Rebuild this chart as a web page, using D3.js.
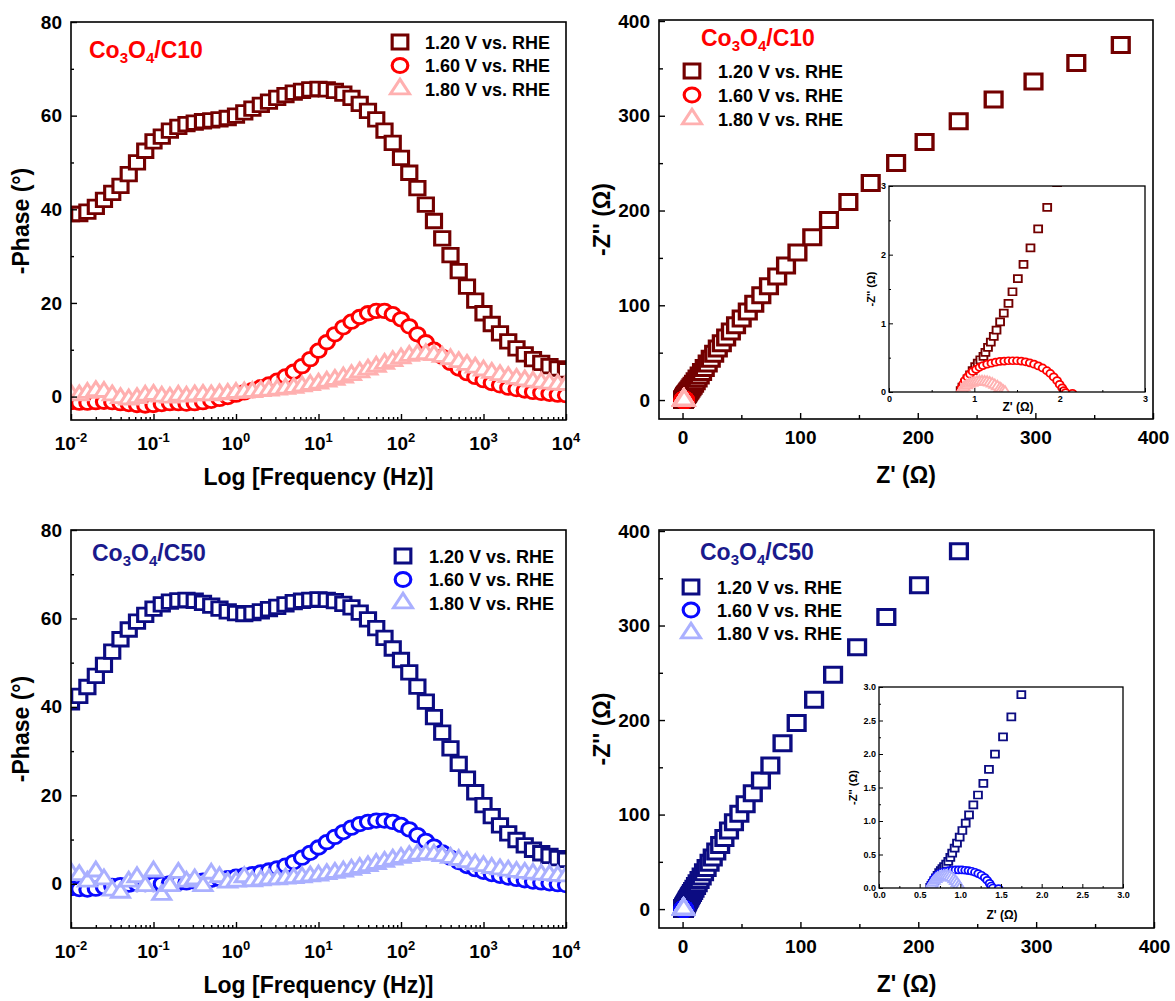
<!DOCTYPE html>
<html>
<head>
<meta charset="utf-8">
<script src="https://cdn.jsdelivr.net/npm/d3@7"></script>
<style>
  body { margin: 0; background: #fff; }
  text { font-family: "Liberation Sans", Arial, Helvetica, sans-serif; font-weight: bold; }
</style>
</head>
<body>
<svg id="chart" width="1175" height="1001"></svg>
<script>
// ---- data ----
var freqHz = [0.01, 0.0126, 0.0158, 0.02, 0.0251, 0.0316, 0.0398, 0.0501, 0.0631, 0.0794,
  0.1, 0.126, 0.158, 0.2, 0.251, 0.316, 0.398, 0.501, 0.631, 0.794,
  1, 1.26, 1.58, 2, 2.51, 3.16, 3.98, 5.01, 6.31, 7.94,
  10, 12.6, 15.8, 20, 25.1, 31.6, 39.8, 50.1, 63.1, 79.4,
  100, 126, 158, 200, 251, 316, 398, 501, 631, 794,
  1000, 1259, 1585, 1995, 2512, 3162, 3981, 5012, 6310, 7943, 10000];

var legendLabels = ["1.20 V vs. RHE", "1.60 V vs. RHE", "1.80 V vs. RHE"];
var decades = [0.01, 0.1, 1, 10, 100, 1000, 10000];
var decadeExp = ["-2", "-1", "0", "1", "2", "3", "4"];
var phaseTicks = [0, 20, 40, 60, 80];
var phaseMinor = [10, 30, 50, 70];
var zTicks = [0, 100, 200, 300, 400];
var zMinor = [50, 150, 250, 350];

// Bode, Co3O4/C10
var phaseC10_120 = [39.0, 39.0, 39.5, 40.5, 42.0, 43.5, 45.0, 47.5, 50.0, 52.5,
  54.5, 55.5, 56.8, 57.6, 58.2, 58.5, 58.8, 59.0, 59.2, 59.5,
  60.0, 60.7, 61.5, 62.3, 63.0, 63.8, 64.4, 64.9, 65.3, 65.6,
  65.7, 65.6, 65.3, 64.7, 63.8, 62.5, 61.0, 59.2, 56.8, 54.2,
  51.0, 47.8, 44.5, 41.0, 37.5, 33.8, 30.2, 26.8, 23.5, 20.5,
  17.8, 15.5, 13.5, 11.8, 10.3, 9.0, 8.0, 7.2, 6.5, 6.0, 5.6];
var phaseC10_160 = [-1.2, -1.3, -1.3, -1.2, -1.1, -1.2, -1.4, -1.6, -1.8, -1.9,
  -1.8, -1.6, -1.4, -1.4, -1.5, -1.4, -1.2, -0.9, -0.5, -0.1,
  0.4, 0.9, 1.4, 2.0, 2.6, 3.4, 4.3, 5.3, 6.5, 8.0,
  9.8, 11.6, 13.3, 14.8, 16.0, 17.0, 17.8, 18.3, 18.3, 17.6,
  16.5, 15.0, 13.3, 11.6, 10.0, 8.5, 7.2, 6.0, 5.0, 4.2,
  3.5, 2.9, 2.4, 1.9, 1.6, 1.3, 1.0, 0.8, 0.6, 0.4, 0.3];
var phaseC10_180 = [0.5, 0.3, 0.8, 1.2, 1.0, 0.3, -0.3, -0.6, -0.3, 0.2,
  0.4, 0.0, -0.2, 0.2, 0.0, 0.3, 0.4, 0.3, 0.5, 0.6,
  0.8, 0.9, 1.0, 1.2, 1.3, 1.5, 1.7, 1.9, 2.2, 2.5,
  2.8, 3.2, 3.6, 4.1, 4.6, 5.2, 5.8, 6.4, 7.0, 7.6,
  8.2, 8.7, 9.0, 9.1, 8.9, 8.5, 8.0, 7.4, 6.8, 6.2,
  5.6, 5.1, 4.6, 4.2, 3.8, 3.5, 3.2, 3.0, 2.8, 2.6, 2.5];

// Bode, Co3O4/C50
var phaseC50_120 = [41.0, 42.5, 44.5, 47.0, 49.5, 52.5, 55.3, 57.5, 59.3, 60.8,
  62.2, 63.2, 63.8, 64.1, 64.2, 64.0, 63.5, 62.9, 62.2, 61.6,
  61.2, 61.0, 61.2, 61.6, 62.1, 62.6, 63.2, 63.7, 64.0, 64.2,
  64.3, 64.2, 63.9, 63.3, 62.5, 61.3, 59.8, 57.8, 55.6, 53.2,
  50.6, 47.8, 44.6, 41.2, 37.7, 34.2, 30.6, 27.1, 23.8, 20.7,
  17.8, 15.3, 13.2, 11.4, 9.9, 8.7, 7.7, 6.9, 6.3, 5.8, 5.4];
var phaseC50_160 = [-1.0, -1.2, -1.3, -1.1, -0.8, -0.5, -0.3, -0.2, -0.1, -0.1,
  -0.1, 0.0, 0.1, 0.2, 0.3, 0.5, 0.7, 0.9, 1.1, 1.3,
  1.6, 1.9, 2.2, 2.6, 3.0, 3.5, 4.1, 4.9, 5.9, 7.0,
  8.2, 9.4, 10.6, 11.7, 12.7, 13.5, 14.0, 14.3, 14.3, 14.0,
  13.3, 12.3, 11.0, 9.7, 8.4, 7.1, 5.9, 4.9, 4.0, 3.3,
  2.7, 2.2, 1.8, 1.4, 1.1, 0.8, 0.5, 0.3, 0.1, -0.1, -0.3];
var phaseC50_180 = [2.5, 2.0, 0.5, 2.8, 1.0, -1.5, -2.0, 0.5, 1.5, -0.5,
  2.8, -2.5, -0.5, 2.5, 0.5, 1.0, -0.5, 2.3, 1.5, 0.3,
  0.5, 1.5, 0.6, 0.8, 1.0, 1.0, 1.2, 1.3, 1.5, 1.7,
  1.9, 2.2, 2.5, 2.8, 3.2, 3.6, 4.0, 4.5, 5.0, 5.5,
  5.9, 6.3, 6.6, 6.7, 6.6, 6.3, 5.9, 5.4, 4.9, 4.4,
  4.0, 3.6, 3.3, 3.0, 2.7, 2.5, 2.3, 2.1, 2.0, 1.8, 1.7];

// Nyquist, Co3O4/C10 (Z', -Z'' in ohm, high to low frequency)
var reC10_120 = [0.84, 0.86, 0.89, 0.92, 0.95, 0.98, 1.01, 1.04, 1.07, 1.107, 1.13, 1.16, 1.193, 1.228, 1.26,
  1.302, 1.345, 1.40, 1.447, 1.51, 1.576, 1.658, 1.748, 1.854, 1.97,
  2.1, 2.26, 2.45, 2.68, 2.95, 3.27, 3.65, 4.1, 4.6, 5.2, 5.9, 6.7, 7.6, 8.6, 9.8,
  11.2, 12.8, 14.6, 16.6, 18.9, 21.4, 24.0, 26.9, 30.0, 33.4, 37.1, 41.1, 45.5, 50.3, 55.5,
  61.0, 67.0, 73.5, 80.5, 88.0, 97.7, 110.3, 124.5, 141, 160, 181.6, 205.8, 234.8, 264.5, 298.4, 334.8, 372.6];
var imC10_120 = [0.02, 0.07, 0.13, 0.19, 0.25, 0.31, 0.37, 0.42, 0.47, 0.52, 0.577, 0.65, 0.727, 0.81, 0.90,
  1.02, 1.15, 1.29, 1.46, 1.65, 1.86, 2.10, 2.375, 2.69, 3.05,
  3.45, 3.9, 4.25, 4.7, 5.2, 5.75, 6.4, 7.2, 8.1, 9.2, 10.4, 11.8, 13.4, 15.2, 17.3,
  19.8, 22.7, 26.0, 29.7, 33.9, 38.5, 43.5, 48.8, 54.3, 60.0, 66.0, 72.3, 79.0, 86.0, 93.5,
  101.5, 110.5, 120.0, 130.5, 142.0, 155.6, 171.8, 190, 209, 229, 250.1, 272.2, 294.3, 317.2, 336.1, 355.8, 374.8];
var reC10_160 = [0.84, 0.85, 0.87, 0.89, 0.92, 0.95, 0.98, 1.02, 1.06, 1.10, 1.15, 1.20, 1.25, 1.30, 1.35, 1.40, 1.45,
  1.50, 1.55, 1.60, 1.65, 1.70, 1.75, 1.80, 1.85, 1.89, 1.93, 1.97, 2.00, 2.03, 2.05, 2.07, 2.15];
var imC10_160 = [0.0, 0.06, 0.12, 0.17, 0.22, 0.26, 0.30, 0.33, 0.36, 0.385, 0.405, 0.42, 0.435, 0.445, 0.45, 0.455, 0.455,
  0.455, 0.45, 0.44, 0.425, 0.405, 0.38, 0.35, 0.31, 0.27, 0.22, 0.165, 0.11, 0.06, 0.02, -0.01, -0.02];
var reC10_180 = [0.84, 0.86, 0.88, 0.91, 0.94, 0.97, 1.0, 1.03, 1.06, 1.09, 1.12, 1.15, 1.18, 1.21, 1.24, 1.27, 1.30, 1.32, 1.34, 1.36];
var imC10_180 = [0.0, 0.04, 0.07, 0.095, 0.115, 0.13, 0.14, 0.148, 0.152, 0.152, 0.15, 0.145, 0.135, 0.12, 0.10, 0.08, 0.055, 0.035, 0.015, 0.0];

// Nyquist, Co3O4/C50
var reC50_120 = [0.63, 0.645, 0.66, 0.68, 0.70, 0.72, 0.74, 0.76, 0.78, 0.80, 0.826, 0.852, 0.877, 0.90, 0.93,
  0.959, 0.992, 1.025, 1.066, 1.107, 1.16, 1.217, 1.283, 1.352, 1.426, 1.525, 1.627, 1.75,
  1.89, 2.05, 2.23, 2.44, 2.68, 2.95, 3.26, 3.62, 4.03, 4.5, 5.03, 5.63, 6.32, 7.1, 7.98,
  8.97, 10.1, 11.4, 12.8, 14.4, 16.2, 18.2, 20.4, 22.9, 25.6, 28.6, 31.9, 35.5, 39.4, 43.6,
  48.2, 53.5, 59.6, 66.5, 74.5, 84.8, 96.8, 111.6, 127.7, 148.1, 172.9, 200.6, 234.5];
var imC50_120 = [0.01, 0.04, 0.07, 0.11, 0.15, 0.19, 0.23, 0.26, 0.29, 0.32, 0.355, 0.397, 0.456, 0.52, 0.595,
  0.669, 0.759, 0.858, 0.967, 1.091, 1.24, 1.388, 1.562, 1.77, 1.998, 2.256, 2.553, 2.885,
  3.15, 3.55, 4.0, 4.5, 5.1, 5.75, 6.5, 7.4, 8.4, 9.5, 10.7, 12.0, 13.5, 15.2, 17.1,
  19.2, 21.6, 24.4, 27.4, 30.8, 34.6, 38.9, 43.6, 48.9, 54.6, 60.9, 67.8, 75.2, 83.2, 91.8,
  101.0, 111.0, 122.5, 136, 152, 175.5, 197.0, 221.4, 247.8, 277.1, 308.9, 342.5, 378.5];
var reC50_160 = [0.63, 0.64, 0.66, 0.68, 0.71, 0.74, 0.78, 0.82, 0.86, 0.90, 0.94, 0.98, 1.02, 1.06, 1.10,
  1.14, 1.18, 1.22, 1.26, 1.30, 1.33, 1.36, 1.38, 1.40, 1.47];
var imC50_160 = [0.0, 0.05, 0.10, 0.14, 0.18, 0.21, 0.235, 0.25, 0.26, 0.265, 0.27, 0.27, 0.27, 0.265, 0.26,
  0.25, 0.235, 0.215, 0.19, 0.155, 0.115, 0.07, 0.03, 0.0, -0.01];
var reC50_180 = [0.63, 0.645, 0.66, 0.68, 0.70, 0.72, 0.745, 0.77, 0.795, 0.82, 0.845, 0.87, 0.895, 0.92, 0.94, 0.96, 0.98, 0.995];
var imC50_180 = [0.0, 0.04, 0.075, 0.105, 0.13, 0.15, 0.165, 0.175, 0.18, 0.18, 0.175, 0.165, 0.15, 0.125, 0.1, 0.07, 0.035, 0.0];

var colC10 = ["#730000", "#ff0000", "#ffb0b0"];
var colC50 = ["#0c0c82", "#0a0aff", "#aab0ff"];
var shapes = ["square", "circle", "triangle"];

// ---- drawing ----
var SX = 1.12; // markers in the figure are a bit wider than tall
var svg = d3.select("#chart");
var defs = svg.append("defs");
var symType = { square: d3.symbolSquare, circle: d3.symbolCircle, triangle: d3.symbolTriangle };

function symArea(shape, s) {
  if (shape === "square") return s * s;
  if (shape === "circle") return Math.PI * s * s / 4;
  return Math.sqrt(3) / 4 * s * s;
}

function drawMarks(g, xs, ys, shape, color, s, sw) {
  var pts = xs.map(function(v, i) { return [v, ys[i]]; });
  g.selectAll(null).data(pts).enter().append("path")
    .attr("transform", function(d) { return "translate(" + d[0] + "," + d[1] + ") scale(" + SX + ",1)"; })
    .attr("d", d3.symbol().type(symType[shape]).size(symArea(shape, s)))
    .attr("fill", "#fff")
    .attr("stroke", color)
    .attr("stroke-width", sw);
}

function addAxis(g, axis, pos, vals, size, pad, fmt, fs, sw) {
  var a = axis.tickValues(vals).tickSize(size).tickPadding(pad).tickFormat(fmt || "");
  var sel = g.append("g").attr("transform", pos).call(a);
  sel.select(".domain").remove();
  sel.attr("font-size", fs).attr("font-family", null);
  sel.selectAll("line").attr("stroke-width", sw || 1.4);
  sel.selectAll("text").attr("fill", "#000");
  return sel;
}

function clipRect(id, x0, y0, x1, y1) {
  defs.append("clipPath").attr("id", id).append("rect")
    .attr("x", x0).attr("y", y0).attr("width", x1 - x0).attr("height", y1 - y0);
}

function sampleTitle(g, x, y, color, name) {
  var t = g.append("text").attr("x", x).attr("y", y).attr("fill", color).attr("font-size", 23);
  t.append("tspan").text("Co");
  t.append("tspan").attr("font-size", 15).attr("dy", 5).text("3");
  t.append("tspan").attr("dy", -5).text("O");
  t.append("tspan").attr("font-size", 15).attr("dy", 5).text("4");
  t.append("tspan").attr("dy", -5).text("/" + name);
}

function legend(g, mx, tx, y0, step, colors) {
  legendLabels.forEach(function(lab, i) {
    var yy = y0 + i * step;
    drawMarks(g, [mx], [yy], shapes[i], colors[i], shapes[i] === "triangle" ? 17 : 14, 2.8);
    g.append("text").attr("x", tx).attr("y", yy + 6.5).attr("font-size", 18).text(lab);
  });
}

function drawBode(p) {
  var g = svg.append("g");
  var x = d3.scaleLog().domain([0.01, 10000]).range([p.left, p.right]);
  var y = d3.scaleLinear().domain(p.yDomain).range([p.bottom, p.top]);
  clipRect(p.id, p.left, p.top, p.right, p.bottom);

  var data = g.append("g").attr("clip-path", "url(#" + p.id + ")");
  var xs = freqHz.map(function(f) { return x(f); });
  p.values.forEach(function(vals, i) {
    var size = shapes[i] === "triangle" ? 16 : 13.5;
    drawMarks(data, xs, vals.map(function(v) { return y(v); }), shapes[i], p.colors[i], size, 2.8);
  });

  // minor log ticks
  var minor = [];
  decades.slice(0, -1).forEach(function(d) { for (var k = 2; k < 10; k++) minor.push(d * k); });
  addAxis(g, d3.axisBottom(x), "translate(0," + p.bottom + ")", minor, -3, 3, null, 10);
  addAxis(g, d3.axisBottom(x), "translate(0," + p.bottom + ")", decades, -6, 3, null, 10);
  decades.forEach(function(d, i) {
    var t = g.append("text").attr("x", x(d)).attr("y", p.bottom + 30)
      .attr("text-anchor", "middle").attr("font-size", 19);
    t.append("tspan").text("10");
    t.append("tspan").attr("font-size", 13).attr("dy", -8).text(decadeExp[i]);
  });
  addAxis(g, d3.axisLeft(y), "translate(" + p.left + ",0)", phaseMinor, -3, 9, null, 10);
  addAxis(g, d3.axisLeft(y), "translate(" + p.left + ",0)", phaseTicks, -6, 9, d3.format("d"), 19);

  g.append("rect").attr("x", p.left).attr("y", p.top)
    .attr("width", p.right - p.left).attr("height", p.bottom - p.top)
    .attr("fill", "none").attr("stroke", "#000").attr("stroke-width", 1.6);

  g.append("text").attr("x", (p.left + p.right) / 2).attr("y", p.bottom + 65)
    .attr("text-anchor", "middle").attr("font-size", 23).text("Log [Frequency (Hz)]");
  g.append("text").attr("transform", "translate(21," + (p.top + p.bottom) / 2 + ") rotate(-90)")
    .attr("text-anchor", "middle").attr("dy", "0.36em").attr("font-size", 23).text("-Phase (\u00b0)");

  sampleTitle(g, p.titleX, p.titleY, p.titleColor, p.name);
  legend(g, p.legMx, p.legTx, p.legY, p.legStep, p.colors);
}

function drawNyquist(p) {
  var g = svg.append("g");
  var x = d3.scaleLinear().domain([-20, 400]).range([p.left, p.right]);
  var y = d3.scaleLinear().domain([-20, 400]).range([p.bottom, p.top + 1]);
  clipRect(p.id, p.left, p.top, p.right, p.bottom);

  var data = g.append("g").attr("clip-path", "url(#" + p.id + ")");
  p.re.forEach(function(re, i) {
    var size = shapes[i] === "triangle" ? 17 : 15;
    drawMarks(data, re.map(function(v) { return x(v); }), p.im[i].map(function(v) { return y(v); }),
      shapes[i], p.colors[i], size, 3);
  });

  addAxis(g, d3.axisBottom(x), "translate(0," + p.bottom + ")", zMinor, -4, 11.5, null, 10);
  addAxis(g, d3.axisBottom(x), "translate(0," + p.bottom + ")", zTicks, -6, 11.5, d3.format("d"), 19);
  addAxis(g, d3.axisLeft(y), "translate(" + p.left + ",0)", zMinor, -4, 9, null, 10);
  addAxis(g, d3.axisLeft(y), "translate(" + p.left + ",0)", zTicks, -6, 9, d3.format("d"), 19);

  g.append("rect").attr("x", p.left).attr("y", p.top)
    .attr("width", p.right - p.left).attr("height", p.bottom - p.top)
    .attr("fill", "none").attr("stroke", "#000").attr("stroke-width", 1.6);

  g.append("text").attr("x", (p.left + p.right) / 2).attr("y", p.bottom + 64)
    .attr("text-anchor", "middle").attr("font-size", 23).text("Z' (\u03a9)");
  g.append("text").attr("transform", "translate(602," + (p.top + p.bottom) / 2 + ") rotate(-90)")
    .attr("text-anchor", "middle").attr("dy", "0.36em").attr("font-size", 23).text("-Z'' (\u03a9)");

  sampleTitle(g, p.titleX, p.titleY, p.titleColor, p.name);
  legend(g, p.legMx, p.legTx, p.legY, p.legStep, p.colors);

  // inset
  var q = p.inset;
  var gi = svg.append("g");
  var xi = d3.scaleLinear().domain([0, 3]).range([q.left, q.right]);
  var yi = d3.scaleLinear().domain([0, 3]).range([q.bottom, q.top]);
  gi.append("rect").attr("x", q.left).attr("y", q.top)
    .attr("width", q.right - q.left).attr("height", q.bottom - q.top).attr("fill", "#fff");
  clipRect(p.id + "-in", q.left, q.top, q.right, q.bottom);
  var di = gi.append("g").attr("clip-path", "url(#" + p.id + "-in)");
  p.re.forEach(function(re, i) {
    var size = shapes[i] === "triangle" ? 10 : 7;
    drawMarks(di, re.map(function(v) { return xi(v); }), p.im[i].map(function(v) { return yi(v); }),
      shapes[i], p.colors[i], size, 1.7);
  });
  addAxis(gi, d3.axisBottom(xi), "translate(0," + q.bottom + ")", q.minor, -2, 4, null, 9, 1);
  addAxis(gi, d3.axisBottom(xi), "translate(0," + q.bottom + ")", q.ticks, -4, 4, q.fmt, 9, 1);
  addAxis(gi, d3.axisLeft(yi), "translate(" + q.left + ",0)", q.minor, -2, 3, null, 9, 1);
  addAxis(gi, d3.axisLeft(yi), "translate(" + q.left + ",0)", q.ticks, -4, 3, q.fmt, 9, 1);
  gi.append("rect").attr("x", q.left).attr("y", q.top)
    .attr("width", q.right - q.left).attr("height", q.bottom - q.top)
    .attr("fill", "none").attr("stroke", "#000").attr("stroke-width", 1.3);
  gi.append("text").attr("x", q.labX).attr("y", q.labY).attr("text-anchor", "middle")
    .attr("font-size", 12).text("Z' (\u03a9)");
  gi.append("text").attr("transform", "translate(" + q.ylabX + "," + (q.top + q.bottom) / 2 + ") rotate(-90)")
    .attr("text-anchor", "middle").attr("dy", "0.36em").attr("font-size", 11).text("-Z'' (\u03a9)");
}

drawBode({ id: "bode10", left: 71, right: 566, top: 22, bottom: 420, yDomain: [-5, 80],
  values: [phaseC10_120, phaseC10_160, phaseC10_180], colors: colC10,
  name: "C10", titleColor: "#ff0000", titleX: 89, titleY: 58,
  legMx: 400, legTx: 425, legY: 42, legStep: 23.5 });

drawBode({ id: "bode50", left: 71, right: 566, top: 530, bottom: 928, yDomain: [-10, 80],
  values: [phaseC50_120, phaseC50_160, phaseC50_180], colors: colC50,
  name: "C50", titleColor: "#1a1a8c", titleX: 92, titleY: 561,
  legMx: 403, legTx: 429, legY: 556, legStep: 23.5 });

drawNyquist({ id: "nyq10", left: 659, right: 1153, top: 20, bottom: 419,
  re: [reC10_120, reC10_160, reC10_180], im: [imC10_120, imC10_160, imC10_180], colors: colC10,
  name: "C10", titleColor: "#ff0000", titleX: 701, titleY: 46,
  legMx: 692, legTx: 718, legY: 71, legStep: 24,
  inset: { left: 889, right: 1145, top: 186, bottom: 392, ticks: [0, 1, 2, 3], minor: [0.5, 1.5, 2.5],
    fmt: d3.format("d"), labX: 1018, labY: 411, ylabX: 871 } });

drawNyquist({ id: "nyq50", left: 659, right: 1154, top: 530, bottom: 928,
  re: [reC50_120, reC50_160, reC50_180], im: [imC50_120, imC50_160, imC50_180], colors: colC50,
  name: "C50", titleColor: "#1a1a8c", titleX: 700, titleY: 560,
  legMx: 691, legTx: 717, legY: 587, legStep: 23,
  inset: { left: 879, right: 1123, top: 687, bottom: 888, ticks: [0, 0.5, 1, 1.5, 2, 2.5, 3],
    minor: [0.25, 0.75, 1.25, 1.75, 2.25, 2.75], fmt: d3.format(".1f"), labX: 1002, labY: 919, ylabX: 853 } });
</script>
</body>
</html>
